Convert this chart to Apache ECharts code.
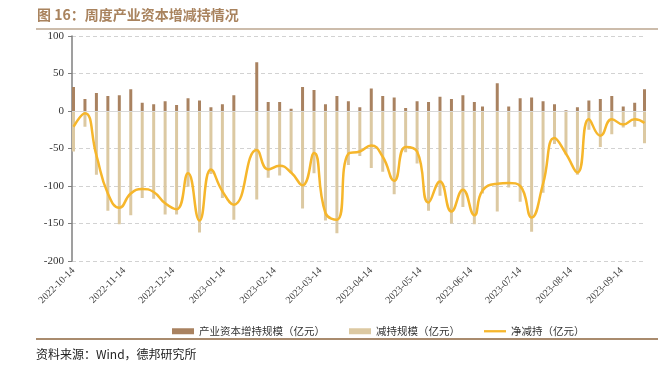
<!DOCTYPE html>
<html>
<head>
<meta charset="utf-8">
<script src="https://cdn.jsdelivr.net/npm/echarts@6/dist/echarts.min.js"></script>
<style>
  html, body { margin: 0; padding: 0; background: #fff; }
  #chart { width: 667px; height: 365px; }
</style>
</head>
<body>
<div id="chart"></div>
<script>
// 周度日期（春节周 2023-01-27 无数据）
var dateList = [
  '2022-10-14', '2022-10-21', '2022-10-28', '2022-11-04', '2022-11-11', '2022-11-18', '2022-11-25',
  '2022-12-02', '2022-12-09', '2022-12-16', '2022-12-23', '2022-12-30', '2023-01-06', '2023-01-13',
  '2023-01-20', '2023-02-03', '2023-02-10', '2023-02-17', '2023-02-24', '2023-03-03', '2023-03-10',
  '2023-03-17', '2023-03-24', '2023-03-31', '2023-04-07', '2023-04-14', '2023-04-21', '2023-04-28',
  '2023-05-05', '2023-05-12', '2023-05-19', '2023-05-26', '2023-06-02', '2023-06-09', '2023-06-16',
  '2023-06-21', '2023-06-30', '2023-07-07', '2023-07-14', '2023-07-21', '2023-07-28', '2023-08-04',
  '2023-08-11', '2023-08-18', '2023-08-25', '2023-09-01', '2023-09-08', '2023-09-15', '2023-09-22',
  '2023-09-28'
];
// 产业资本增持规模（亿元）
var addList = [
  32, 16, 24, 20, 21, 29, 11, 9, 13, 8, 17, 14, 5, 9, 21,
  65, 12, 12, 3, 32, 28, 9, 20, 13, 5, 30, 20, 18, 4, 13,
  12, 19, 16, 21, 12, 6, 37, 6, 17, 18, 13, 9, 1, 5, 14,
  16, 20, 6, 11, 29
];
// 减持规模（亿元）
var cutList = [
  -54, -21, -85, -133, -151, -139, -116, -117, -138, -138, -101, -162, -84, -116, -145,
  -118, -89, -86, -83, -130, -83, -146, -163, -72, -60, -76, -81, -111, -55, -70,
  -133, -113, -150, -128, -151, -110, -134, -102, -121, -161, -109, -44, -58, -85, -25,
  -48, -31, -22, -21, -43
];
// 净减持（亿元）
var netList = [
  -21, -3, -59, -110, -129, -110, -104, -108, -123, -131, -83, -146, -78, -107, -125,
  -52, -78, -73, -82, -99, -56, -136, -145, -57, -54, -46, -61, -93, -48, -54,
  -122, -94, -134, -105, -139, -106, -97, -96, -100, -142, -97, -36, -57, -82, -11,
  -33, -11, -18, -11, -16
];
// x轴标签日期
var tickDates = [
  '2022-10-14', '2022-11-14', '2022-12-14', '2023-01-14', '2023-02-14', '2023-03-14',
  '2023-04-14', '2023-05-14', '2023-06-14', '2023-07-14', '2023-08-14', '2023-09-14'
];

function toTime(s) {
  return new Date(s + 'T00:00:00').getTime();
}
function pairs(list) {
  return dateList.map(function (d, i) { return [toTime(d), list[i]]; });
}

var myChart = echarts.init(document.getElementById('chart'), null, { renderer: 'canvas' });

var option = {
  animation: false,
  backgroundColor: '#ffffff',
  title: {
    text: '图 16：周度产业资本增减持情况',
    left: 37,
    top: 8,
    padding: 0,
    textStyle: {
      color: '#A9835E',
      fontSize: 14,
      fontWeight: 'bold',
      fontFamily: 'Noto Sans CJK SC'
    }
  },
  graphic: [
    {
      type: 'line',
      shape: { x1: 36, y1: 29, x2: 658, y2: 29 },
      style: { stroke: '#BBA68F', lineWidth: 1.5 }
    },
    {
      type: 'line',
      shape: { x1: 36, y1: 339, x2: 658, y2: 339 },
      style: { stroke: '#A98B6E', lineWidth: 2 }
    },
    {
      type: 'text',
      left: 36,
      top: 348,
      style: {
        text: '资料来源：Wind，德邦研究所',
        fill: '#222222',
        fontSize: 12,
        fontFamily: 'Noto Sans CJK SC'
      }
    }
  ],
  grid: {
    left: 72,
    right: 21,
    top: 36,
    bottom: 104
  },
  legend: {
    left: 167,
    top: 321,
    itemWidth: 22,
    itemHeight: 6,
    itemGap: 24,
    textStyle: {
      color: '#333333',
      fontSize: 10.5,
      fontFamily: 'Noto Sans CJK SC'
    },
    data: [
      { name: '产业资本增持规模（亿元）', icon: 'rect' },
      { name: '减持规模（亿元）', icon: 'rect' },
      { name: '净减持（亿元）', icon: 'path://M0,0L24,0L24,2.5L0,2.5Z' }
    ]
  },
  xAxis: {
    type: 'time',
    min: toTime('2022-10-14'),
    max: toTime('2023-09-28'),
    axisLine: { show: false },
    axisTick: { show: false },
    splitLine: { show: false },
    axisLabel: {
      customValues: tickDates.map(toTime),
      rotate: 45,
      margin: 8,
      color: '#444444',
      fontSize: 10,
      fontFamily: 'Liberation Serif',
      formatter: '{yyyy}-{MM}-{dd}'
    }
  },
  yAxis: {
    type: 'value',
    min: -200,
    max: 100,
    interval: 50,
    axisLine: {
      show: true,
      lineStyle: { color: '#7f7f7f', width: 1.5 }
    },
    axisTick: {
      show: true,
      length: 4,
      lineStyle: { color: '#7f7f7f' }
    },
    axisLabel: {
      color: '#333333',
      fontSize: 11,
      fontFamily: 'Liberation Serif',
      margin: 8
    },
    splitLine: {
      show: true,
      lineStyle: { color: '#d2d2d2', type: [4, 3] }
    }
  },
  series: [
    {
      name: '产业资本增持规模（亿元）',
      type: 'bar',
      stack: 'v',
      barWidth: 3,
      data: pairs(addList),
      itemStyle: { color: '#A98260' },
      markLine: {
        silent: true,
        symbol: 'none',
        label: { show: false },
        lineStyle: { color: '#d9d9d9', type: 'solid', width: 1 },
        data: [{ yAxis: 0 }]
      }
    },
    {
      name: '减持规模（亿元）',
      type: 'bar',
      stack: 'v',
      barWidth: 3,
      data: pairs(cutList),
      itemStyle: { color: '#DCC9A2' }
    },
    {
      name: '净减持（亿元）',
      type: 'line',
      data: pairs(netList),
      smooth: 0.5,
      symbol: 'none',
      z: 5,
      lineStyle: { color: '#F6B62B', width: 2.5 },
      itemStyle: { color: '#F6B62B' }
    }
  ]
};

myChart.setOption(option);
</script>
</body>
</html>
